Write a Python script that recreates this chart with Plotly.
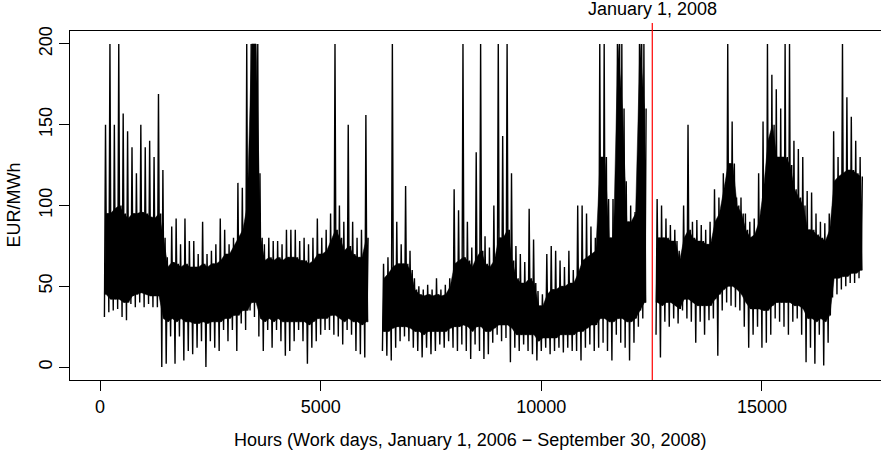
import plotly.graph_objects as go

# Hourly electricity prices (EUR/MWh), summarised per 100-hour block:
# block minimum, block maximum, and the lower/upper edge of the dense core.
block_start = list(range(100, 17300, 100))

price_min = [
    31, 34, 35, 36, 31, 29, 39, 37, 40, 37, 39, 37, 37, 0, 2, 19, 2, 19, 4, 10,
    8, 12, 16, 0, 16, 12, 10, 23, 16, 23, 10, 27, 23, 35, 31, 19, 10, 23, 12, 23,
    16, 7, 10, 16, 23, 16, 2, 12, 16, 20, 23, 23, 20, 19, 14, 23, 20, 10, 8, 6,
    None, None, None, 10, 7, 4, 12, 16, 19, 16, 12, 10, 6, 12, 8, 10, 14, 12, 16, 12,
    10, 14, 10, 5, 14, 10, 5, 8, 15, 20, 16, 18, 3, 12, 10, 14, 10, 8, 4, 10,
    12, 8, 10, 12, 9, 12, 10, 10, 4, 12, 14, 10, 12, 15, 10, 4, 20, 15, 12, 4,
    15, 25, 30, None, None, 20, 6, 28, 25, 30, 27, 35, 30, 28, 15, 28, 20, 29, 30, 7,
    35, 40, 38, 37, 35, 25, 12, 20, 25, 12, 15, 20, 30, 28, 25, 20, 28, 30, 20, 3,
    12, 2, 20, 1, 15, 43, 45, 48, 50, 52, 52, 55,
]

price_max = [
    150, 200, 150, 200, 157, 146, 136, 120, 150, 136, 140, 130, 169, 122, 68, 87, 92, 76, 92, 78,
    78, 70, 90, 70, 72, 76, 92, 85, 76, 80, 114, 111, 200, 200, 200, 120, 76, 80, 78, 78,
    76, 85, 85, 85, 78, 80, 76, 80, 92, 80, 85, 95, 200, 100, 90, 150, 90, 80, 85, 156,
    None, None, None, 64, 68, 200, 90, 76, 112, 72, 55, 50, 48, 51, 48, 55, 48, 51, 55, 110,
    97, 200, 90, 74, 133, 200, 81, 74, 100, 200, 143, 200, 120, 75, 70, 65, 98, 79, 47, 45,
    70, 75, 72, 66, 62, 72, 60, 100, 100, 95, 87, 80, 200, 200, 104, 104, 200, 200, 115, 100,
    96, 200, 200, None, None, 104, 100, 92, 88, 85, 72, 100, 150, 90, 91, 88, 85, 90, 110, 105,
    120, 200, 152, 105, 105, 95, 90, 92, 120, 152, 200, 181, 172, 160, 200, 200, 140, 135, 130, 109,
    108, 95, 90, 89, 95, 146, 130, 200, 167, 155, 140, 130,
]

core_low = [
    45, 42, 42, 42, 40, 40, 44, 45, 46, 45, 44, 44, 44, 30, 28, 30, 28, 30, 28, 28,
    27, 27, 28, 27, 28, 28, 28, 30, 30, 32, 32, 35, 35, 40, 40, 30, 28, 30, 28, 30,
    28, 28, 28, 28, 28, 28, 26, 28, 30, 30, 30, 32, 32, 30, 28, 30, 28, 28, 26, 28,
    None, None, None, 22, 22, 24, 25, 25, 25, 24, 22, 22, 20, 22, 22, 22, 22, 22, 24, 25,
    25, 26, 25, 22, 25, 25, 22, 22, 24, 26, 26, 26, 24, 20, 20, 20, 20, 20, 16, 18,
    18, 18, 18, 20, 20, 20, 20, 22, 22, 24, 26, 26, 30, 30, 28, 28, 30, 30, 28, 28,
    30, 35, 40, None, None, 40, 38, 40, 40, 38, 36, 42, 42, 40, 38, 38, 38, 38, 42, 45,
    48, 50, 50, 48, 45, 40, 36, 36, 36, 35, 35, 38, 40, 40, 40, 40, 38, 38, 36, 30,
    30, 28, 30, 28, 32, 55, 55, 56, 56, 58, 58, 60,
]

core_high = [
    95, 95, 98, 100, 95, 92, 95, 95, 96, 95, 93, 92, 95, 80, 62, 65, 64, 62, 64, 62,
    62, 62, 64, 62, 64, 64, 66, 70, 70, 75, 80, 85, 100, 200, 200, 80, 66, 68, 66, 68,
    66, 68, 68, 68, 66, 66, 64, 66, 70, 70, 72, 78, 85, 80, 72, 75, 70, 68, 68, 80,
    None, None, None, 55, 58, 62, 64, 64, 64, 60, 48, 45, 44, 45, 44, 45, 44, 45, 50, 64,
    66, 68, 66, 62, 68, 72, 64, 62, 66, 80, 80, 85, 66, 55, 52, 52, 55, 52, 38, 38,
    45, 48, 48, 50, 50, 52, 52, 58, 66, 68, 70, 72, 130, 130, 80, 80, 200, 160, 90, 90,
    95, 200, 160, None, None, 80, 80, 80, 78, 78, 66, 80, 85, 80, 78, 78, 76, 76, 90, 95,
    110, 126, 126, 100, 95, 85, 80, 82, 90, 110, 140, 150, 130, 130, 130, 125, 110, 105, 100, 85,
    85, 82, 80, 78, 85, 115, 118, 120, 122, 122, 120, 118,
]

x_ticks = [0, 5000, 10000, 15000]
y_ticks = [0, 50, 100, 150, 200]
new_year_2008 = 12515  # hour index of January 1, 2008

assert len(block_start) == len(price_min) == len(price_max) == len(core_low) == len(core_high)

# Expand each block into a short run of hourly points: min, max, core low, core high
hours, prices = [], []
for h, lo, hi, clo, chi in zip(block_start, price_min, price_max, core_low, core_high):
    if lo is None:
        hours.append(h)
        prices.append(None)
        continue
    hours += [h, h + 25, h + 50, h + 75]
    prices += [lo, hi, clo, chi]

# Contiguous runs of blocks (split at missing data) for the solid core band
runs, current = [], []
for h, clo, chi in zip(block_start, core_low, core_high):
    if clo is None:
        if current:
            runs.append(current)
        current = []
    else:
        current.append((h, clo, chi))
if current:
    runs.append(current)

FONT = "Liberation Sans, Arial, sans-serif"
W, H = 881, 461
L, R, T, B = 70, 0, 31, 81
plot_h = H - T - B

fig = go.Figure()

for run in runs:
    xs_top = [h + 37 for h, _, _ in run]
    ys_top = [chi for _, _, chi in run]
    xs_bot = [h + 37 for h, _, _ in run][::-1]
    ys_bot = [clo for _, clo, _ in run][::-1]
    fig.add_trace(go.Scatter(
        x=[run[0][0]] + xs_top + [run[-1][0] + 75] + xs_bot + [run[0][0]],
        y=[run[0][1]] + ys_top + [run[-1][1]] + ys_bot + [run[0][1]],
        mode="lines", fill="toself", fillcolor="black",
        line=dict(color="black", width=0.5),
        hoverinfo="skip", showlegend=False,
    ))

fig.add_trace(go.Scatter(
    x=hours, y=prices, mode="lines",
    line=dict(color="black", width=1.4),
    connectgaps=False, hoverinfo="skip", showlegend=False,
))

# Vertical marker at the start of 2008
fig.add_shape(
    type="line", xref="x", yref="paper",
    x0=new_year_2008, x1=new_year_2008,
    y0=0, y1=1 + 8 / plot_h,
    line=dict(color="#ff0000", width=1.2),
)

fig.add_annotation(
    x=new_year_2008, xref="x", y=1 + (T - 9) / plot_h, yref="paper",
    text="January 1, 2008", showarrow=False,
    xanchor="center", yanchor="middle",
    font=dict(family=FONT, size=18, color="black"),
)
fig.add_annotation(
    x=(470 - L) / (W - L - R), xref="paper", y=-(440 - (H - B)) / plot_h, yref="paper",
    text="Hours (Work days, January 1, 2006 \u2212 September 30, 2008)", showarrow=False,
    xanchor="center", yanchor="middle",
    font=dict(family=FONT, size=18, color="black"),
)
fig.add_annotation(
    x=-(L - 13) / (W - L - R), xref="paper", y=0.5, yref="paper",
    text="EUR/MWh", showarrow=False, textangle=-90,
    xanchor="center", yanchor="middle",
    font=dict(family=FONT, size=18, color="black"),
)

fig.update_xaxes(
    range=[-680, 17698], tickvals=x_ticks, ticktext=[str(v) for v in x_ticks],
    showgrid=False, zeroline=False,
    showline=True, mirror=True, linecolor="black", linewidth=1,
    ticks="outside", ticklen=10, tickwidth=1, tickcolor="black",
    tickfont=dict(family=FONT, size=18, color="black"),
)
fig.update_yaxes(
    range=[-8, 208], tickvals=y_ticks, ticktext=[str(v) for v in y_ticks],
    showgrid=False, zeroline=False,
    showline=True, mirror=False, linecolor="black", linewidth=1,
    ticks="outside", ticklen=10, tickwidth=1, tickcolor="black",
    tickangle=-90,
    tickfont=dict(family=FONT, size=18, color="black"),
)
fig.update_layout(
    width=W, height=H,
    margin=dict(l=L, r=R, t=T, b=B, pad=0),
    paper_bgcolor="white", plot_bgcolor="white",
    showlegend=False,
)

fig.write_html("out.html")
